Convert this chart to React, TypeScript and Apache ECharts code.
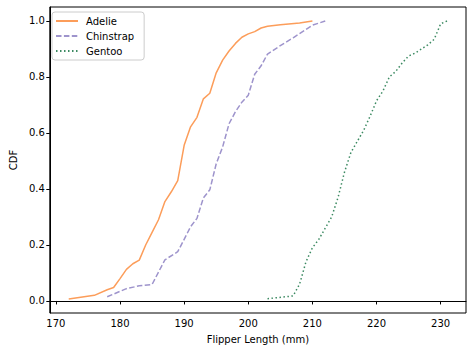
import React, { useEffect, useRef } from "react";
import * as echarts from "echarts";

const adelieX = [172, 176, 178, 179, 180, 181, 182, 183, 184, 185, 186, 187, 188, 189, 190, 191, 192, 193, 194, 195, 196, 197, 198, 199, 200, 201, 202, 203, 205, 208, 210];
const adelieP = [0.007, 0.02, 0.04, 0.048, 0.08, 0.113, 0.133, 0.146, 0.2, 0.245, 0.29, 0.355, 0.39, 0.43, 0.556, 0.622, 0.656, 0.722, 0.742, 0.815, 0.86, 0.893, 0.92, 0.942, 0.954, 0.962, 0.975, 0.981, 0.987, 0.993, 1.0];

const chinstrapX = [178, 181, 183, 185, 187, 189, 190, 191, 192, 193, 194, 195, 196, 197, 198, 199, 200, 201, 202, 203, 205, 207, 208, 209, 210, 212];
const chinstrapP = [0.015, 0.044, 0.054, 0.059, 0.147, 0.176, 0.22, 0.265, 0.295, 0.368, 0.397, 0.49, 0.55, 0.633, 0.676, 0.71, 0.735, 0.81, 0.84, 0.882, 0.912, 0.94, 0.955, 0.97, 0.985, 1.0];

const gentooX = [203, 207, 208, 209, 210, 211, 212, 213, 214, 215, 216, 217, 218, 219, 220, 221, 222, 223, 224, 225, 226, 227, 228, 229, 230, 231];
const gentooP = [0.008, 0.018, 0.06, 0.14, 0.19, 0.22, 0.26, 0.3, 0.37, 0.46, 0.53, 0.57, 0.61, 0.66, 0.715, 0.75, 0.8, 0.82, 0.85, 0.875, 0.885, 0.9, 0.915, 0.935, 0.99, 1.0];

const xTicks = [170, 180, 190, 200, 210, 220, 230];
const yTicks = [0, 0.2, 0.4, 0.6, 0.8, 1.0];

const FONT = "DejaVu Sans";

export default function App() {
  const ref = useRef<HTMLDivElement>(null);
  useEffect(() => {
    if (!ref.current) return;
    const chart = echarts.init(ref.current, null, { renderer: "svg" });
    const pairs = (xs: number[], ps: number[]) => xs.map((x, i) => [x, ps[i]]);
    chart.setOption({
      animation: false,
      backgroundColor: "#fff",
      grid: {
        left: 46,
        top: 7,
        width: 420,
        height: 306,
        show: true,
        borderColor: "#000",
        borderWidth: 1,
      },
      legend: {
        left: 52,
        top: 12,
        orient: "vertical",
        itemWidth: 22,
        itemHeight: 10,
        itemGap: 5,
        padding: [4, 10, 4, 3],
        borderColor: "#cccccc",
        borderWidth: 1,
        borderRadius: 3,
        backgroundColor: "rgba(255,255,255,0.8)",
        itemStyle: { opacity: 0 },
        textStyle: { fontFamily: FONT, fontSize: 10, color: "#000", padding: [0, 0, 0, 3] },
        data: ["Adelie", "Chinstrap", "Gentoo"],
      },
      xAxis: {
        type: "value",
        min: 169.05,
        max: 233.95,
        name: "Flipper Length (mm)",
        nameLocation: "middle",
        nameGap: 21,
        nameTextStyle: { fontFamily: FONT, fontSize: 10, color: "#000" },
        splitLine: { show: false },
        axisLine: { show: true, lineStyle: { color: "#000", width: 1 } },
        axisTick: { show: true, length: 3.5, lineStyle: { color: "#000" }, customValues: xTicks },
        axisLabel: {
          fontFamily: FONT,
          fontSize: 10,
          color: "#000",
          margin: 5,
          customValues: xTicks,
          formatter: (v: number) => String(v),
        },
      },
      yAxis: {
        type: "value",
        min: -0.043,
        max: 1.05,
        name: "CDF",
        nameLocation: "middle",
        nameGap: 30,
        nameTextStyle: { fontFamily: FONT, fontSize: 10, color: "#000" },
        splitLine: { show: false },
        axisLine: { show: true, lineStyle: { color: "#000", width: 1 } },
        axisTick: { show: true, length: 3.5, lineStyle: { color: "#000" }, customValues: yTicks },
        axisLabel: {
          fontFamily: FONT,
          fontSize: 10,
          color: "#000",
          margin: 5,
          customValues: yTicks,
          formatter: (v: number) => v.toFixed(1),
        },
      },
      series: [
        {
          name: "Adelie",
          type: "line",
          data: pairs(adelieX, adelieP),
          symbol: "none",
          color: "#fc9d5a",
          lineStyle: { width: 1.5, color: "#fc9d5a" },
        },
        {
          name: "Chinstrap",
          type: "line",
          data: pairs(chinstrapX, chinstrapP),
          symbol: "none",
          color: "#9e94cc",
          lineStyle: { width: 1.5, color: "#9e94cc", type: [5.5, 2.4] },
        },
        {
          name: "Gentoo",
          type: "line",
          data: pairs(gentooX, gentooP),
          symbol: "none",
          color: "#3c8a62",
          lineStyle: { width: 1.5, color: "#3c8a62", type: [1.5, 2.5] },
        },
      ],
    });
    return () => chart.dispose();
  }, []);
  return <div ref={ref} style={{ width: 472, height: 352, position: "absolute", left: 0, top: 0 }} />;
}
